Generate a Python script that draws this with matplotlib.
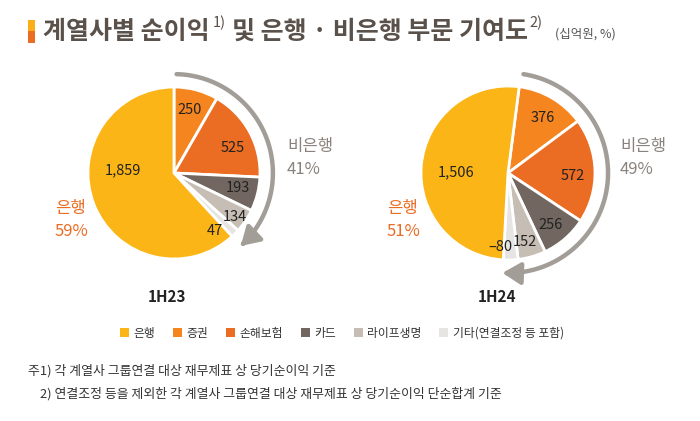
import numpy as np
import matplotlib
matplotlib.use('Agg')
import matplotlib.pyplot as plt
from matplotlib.patches import FancyArrowPatch, Rectangle, Patch
from matplotlib.path import Path

plt.rcParams['font.family'] = ['Noto Sans CJK KR', 'DejaVu Sans']

# data (십억원)
categories = ['은행', '증권', '손해보험', '카드', '라이프생명', '기타(연결조정 등 포함)']
h23 = [1859, 250, 525, 193, 134, 47]
h24 = [1506, 376, 572, 256, 152, -80]
periods = ['1H23', '1H24']
bank_pct = ['59%', '51%']
nonbank_pct = ['41%', '49%']

colors = ['#FBB516', '#F5861F', '#EB6C23', '#716760', '#C6BDB4', '#E6E5E4']
title_c = '#5A514B'
arc_c = '#A39D97'

W, H = 700, 421
def Y(y):
    return H - y

fig = plt.figure(figsize=(7, 4.21), dpi=100)
ax = fig.add_axes([0, 0, 1, 1])

# pie layout: center x, radius, start offset (deg clockwise from 12 o'clock)
centers = [(174, Y(173)), (508, Y(173))]
radii = [86, 87]
start_off = [0, 7.4]
period_x = [167, 497]
# label tweaks per wedge (clockwise deg, fraction of radius); order: 증권..기타, 은행
tweaks = [
    [(-1, 0.76), (6, 0.74), (-1, 0.76), (2, 0.88), (10, 0.83), (24, 0.6)],
    [(2, 0.75), (4, 0.75), (2, 0.77), (2, 0.82), (8, 0.85), (-4, 0.6)],
]

for i, vals in enumerate([h23, h24]):
    order = vals[1:] + vals[:1]
    cols = colors[1:] + colors[:1]
    cx, cy = centers[i]
    r = radii[i]
    wedges, _ = ax.pie(np.abs(order), colors=cols, startangle=90 - start_off[i],
                       counterclock=False, center=(cx, cy), radius=r,
                       wedgeprops=dict(edgecolor='white', linewidth=2))
    for w, v, (dt, d) in zip(wedges, order, tweaks[i]):
        mid = np.deg2rad((w.theta1 + w.theta2) / 2 - dt)
        ax.text(cx + d * r * np.cos(mid), cy + d * r * np.sin(mid),
                f'{v:,}'.replace('-', '\u2013'), fontsize=10.5, color='#222222',
                ha='center', va='center')

    # arc arrow over non-bank part
    nb_deg = 360 * sum(np.abs(order[:-1])) / sum(np.abs(order))
    th = np.deg2rad(90 - np.linspace(start_off[i] + 1.5, start_off[i] + nb_deg, 80))
    R = 1.15 * r
    pts = np.column_stack([cx + R * np.cos(th), cy + R * np.sin(th)])
    arr = FancyArrowPatch(path=Path(pts), arrowstyle='-|>,head_length=0.9,head_width=0.55',
                          mutation_scale=12, color=arc_c, lw=3.2)
    ax.add_patch(arr)

    ax.text(period_x[i], Y(297), periods[i],
            fontsize=11, fontweight='bold', color='#222222', ha='center', va='center')

ax.set_xlim(0, W)
ax.set_ylim(0, H)
ax.set_aspect('equal')
ax.axis('off')

# share labels
for lx, s, p in [(287, '비은행', nonbank_pct[0]), (620, '비은행', nonbank_pct[1])]:
    ax.text(lx, Y(146), s, fontsize=12, color='#8A827C', ha='left', va='center')
    ax.text(lx, Y(170), p, fontsize=12, color='#8A827C', ha='left', va='center')
for lx, p in [(55, bank_pct[0]), (387, bank_pct[1])]:
    ax.text(lx, Y(208), '은행', fontsize=12, color='#EB6C23', ha='left', va='center')
    ax.text(lx, Y(232), p, fontsize=12, color='#EB6C23', ha='left', va='center')

# title with bar
ax.add_patch(Rectangle((28, Y(31)), 7, 11, color='#FBAE17', lw=0))
ax.add_patch(Rectangle((28, Y(43)), 7, 12, color='#EB6C23', lw=0))
renderer = fig.canvas.get_renderer()
inv = ax.transData.inverted()
pieces = [('계열사별 순이익', 18, 'bold', title_c, 32, 3),
          ('1)', 10.5, 'normal', title_c, 23, 6),
          ('및 은행 · 비은행 부문 기여도', 18, 'bold', title_c, 32, 2),
          ('2)', 10.5, 'normal', title_c, 23, 12),
          ('(십억원, %)', 9, 'normal', '#555555', 34, 0)]
x = 43
for s, fs, fw, c, yy, gap in pieces:
    t = ax.text(x, Y(yy), s, fontsize=fs, fontweight=fw, color=c, ha='left', va='center')
    bb = t.get_window_extent(renderer)
    x = inv.transform((bb.x1, bb.y1))[0] + gap

# legend
handles = [Patch(facecolor=c, edgecolor='none') for c in colors]
ax.legend(handles, categories, loc='center', bbox_to_anchor=(342 / W, 1 - 333 / H),
          ncol=6, frameon=False, fontsize=8.5, handlelength=0.75, handleheight=0.75,
          handletextpad=0.4, columnspacing=1.5, labelcolor='#333333')

# footnotes
ax.text(28, Y(371), '주1) 각 계열사 그룹연결 대상 재무제표 상 당기순이익 기준',
        fontsize=9.3, color='#333333', ha='left', va='center')
ax.text(40, Y(394), '2) 연결조정 등을 제외한 각 계열사 그룹연결 대상 재무제표 상 당기순이익 단순합계 기준',
        fontsize=9.3, color='#333333', ha='left', va='center')

fig.savefig('out.png', dpi=100, facecolor='white')
